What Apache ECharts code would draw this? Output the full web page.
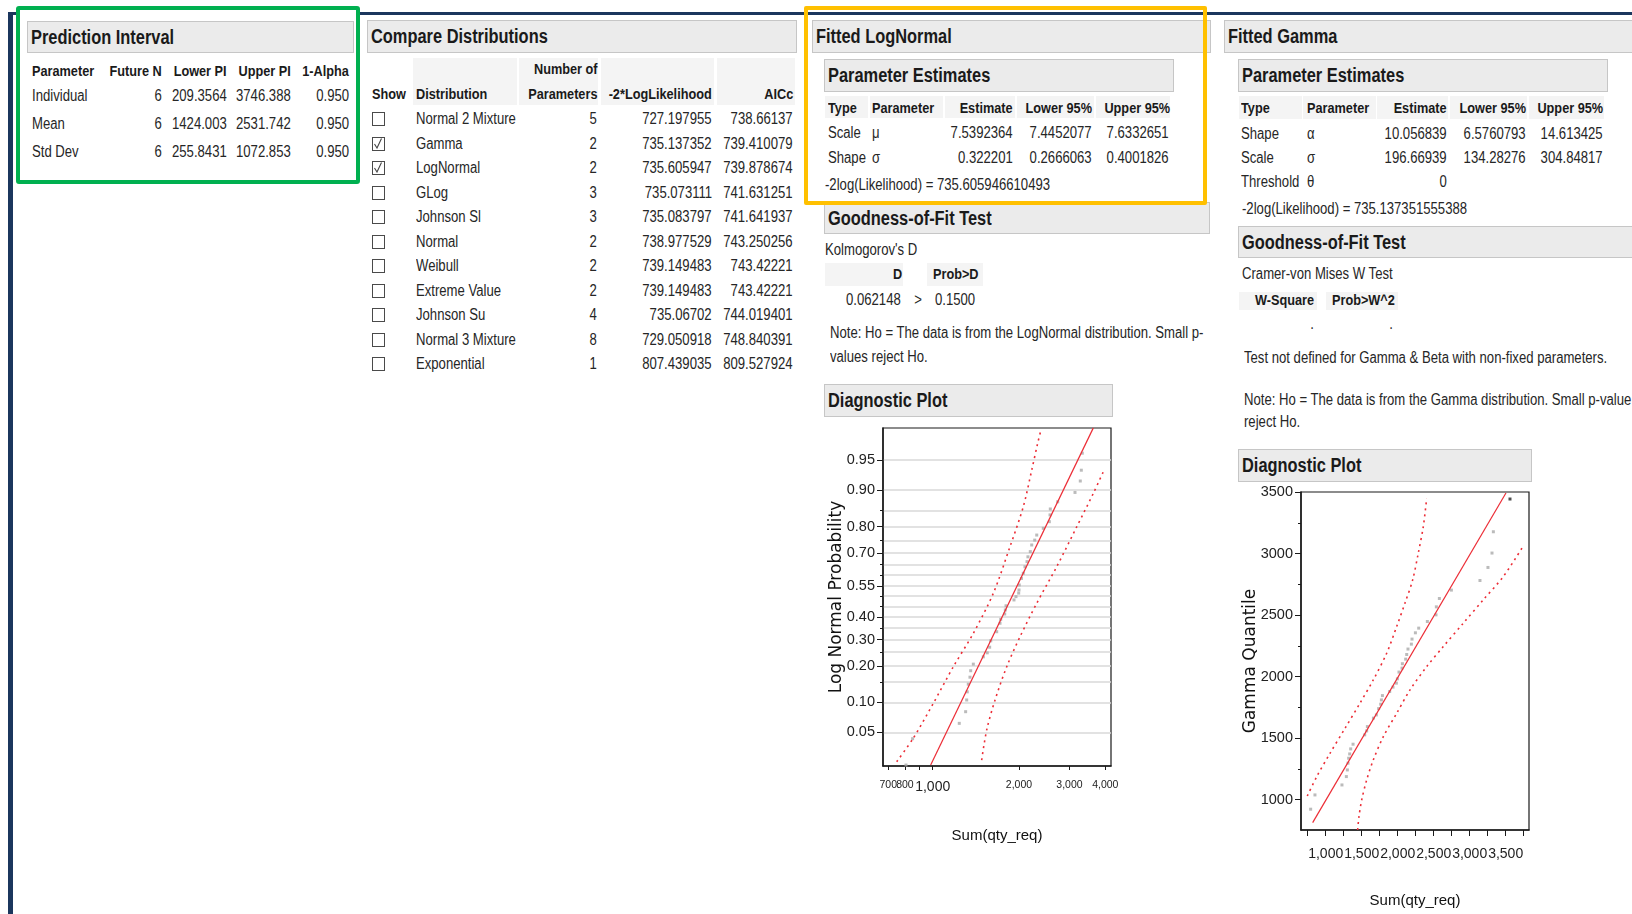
<!DOCTYPE html>
<html><head><meta charset="utf-8">
<script src="https://cdn.jsdelivr.net/npm/echarts@6/dist/echarts.min.js"></script>
<style>
body{margin:0;width:1632px;height:914px;overflow:hidden;background:#fff;position:relative;
 font-family:"Liberation Sans",Arial,sans-serif;color:#262626}
#chart{position:absolute;left:0;top:0;width:1632px;height:914px}
#ui div{position:absolute;box-sizing:border-box}
.t{white-space:nowrap}
.b{font-weight:bold;color:#1a1a1a}
.hdr{background:#ebebeb;border:1px solid #c6c6c6}
.cell{background:#f4f4f4}
.navy{background:#1b365d}
.gbox{border:4px solid #00b050;border-radius:3px;background:#fff}
.ybox{border:4px solid #ffc000;border-radius:2px}
.chk{border:1.5px solid #4a4a4a;background:#fff}
</style></head>
<body>
<div id="ui"></div>
<div id="chart"></div>
<script>
// ---------------- data ----------------
const predParams = ['Individual', 'Mean', 'Std Dev'];
const predFutureN = ['6', '6', '6'];
const predLowerPI = ['209.3564', '1424.003', '255.8431'];
const predUpperPI = ['3746.388', '2531.742', '1072.853'];
const predAlpha = ['0.950', '0.950', '0.950'];

const distNames = ['Normal 2 Mixture', 'Gamma', 'LogNormal', 'GLog', 'Johnson Sl', 'Normal', 'Weibull', 'Extreme Value', 'Johnson Su', 'Normal 3 Mixture', 'Exponential'];
const distShown = [false, true, true, false, false, false, false, false, false, false, false];
const distNParams = ['5', '2', '2', '3', '3', '2', '2', '2', '4', '8', '1'];
const distLogLik = ['727.197955', '735.137352', '735.605947', '735.073111', '735.083797', '738.977529', '739.149483', '739.149483', '735.06702', '729.050918', '807.439035'];
const distAICc = ['738.66137', '739.410079', '739.878674', '741.631251', '741.641937', '743.250256', '743.42221', '743.42221', '744.019401', '748.840391', '809.527924'];

const lnType = ['Scale', 'Shape'];
const lnParam = ['μ', 'σ'];
const lnEst = ['7.5392364', '0.322201'];
const lnLower = ['7.4452077', '0.2666063'];
const lnUpper = ['7.6332651', '0.4001826'];
const lnLik = '-2log(Likelihood) = 735.605946610493';
const lnKsD = '0.062148';
const lnKsP = '0.1500';

const gmType = ['Shape', 'Scale', 'Threshold'];
const gmParam = ['α', 'σ', 'θ'];
const gmEst = ['10.056839', '196.66939', '0'];
const gmLower = ['6.5760793', '134.28276', ''];
const gmUpper = ['14.613425', '304.84817', ''];
const gmLik = '-2log(Likelihood) = 735.137351555388';

// LogNormal diagnostic plot: [Sum(qty_req), probability]
const lnPoints = [[3556,0.979],[3325,0.958],[3299,0.936],[3272,0.918],[3136,0.895],[2729,0.873],[2572,0.854],[2566,0.837],[2552,0.816],[2431,0.794],[2306,0.770],[2269,0.751],[2215,0.732],[2190,0.705],[2149,0.683],[2133,0.662],[2098,0.639],[2070,0.609],[2040,0.585],[2004,0.554],[2000,0.530],[1995,0.515],[1952,0.498],[1921,0.482],[1802,0.454],[1792,0.434],[1783,0.415],[1727,0.390],[1717,0.372],[1672,0.334],[1594,0.295],[1580,0.269],[1550,0.247],[1502,0.232],[1386,0.206],[1357,0.184],[1349,0.164],[1331,0.144],[1320,0.124],[1314,0.105],[1303,0.0815],[1238,0.0623],[851,0.0426],[807,0.0207]];
const lnFit = [[984,0.0207],[3633,0.979]];
const lnBandLeft = [[749,0.0228],[855,0.043],[1005,0.0978],[1180,0.197],[1386,0.327],[1627,0.514],[1860,0.725],[2070,0.860],[2215,0.936],[2324,0.9677],[2386,0.9777]];
const lnBandRight = [[1482,0.0239],[1543,0.053],[1650,0.105],[1812,0.197],[2016,0.312],[2306,0.466],[2707,0.639],[3179,0.799],[3633,0.893],[3967,0.937]];
const lnProbLabels = [0.05, 0.10, 0.20, 0.30, 0.40, 0.55, 0.70, 0.80, 0.90, 0.95];
const lnProbGrid = [0.05, 0.10, 0.15, 0.20, 0.25, 0.30, 0.35, 0.40, 0.45, 0.50, 0.55, 0.60, 0.65, 0.70, 0.75, 0.80, 0.85, 0.90, 0.95];
const lnXTicks = [700, 800, 900, 1000, 2000, 3000, 4000];
const lnXLabelsA = [700, 1000, 3000];
const lnXLabelsB = [800, 2000, 4000];

// Gamma diagnostic plot: [Sum(qty_req), Gamma quantile]
const gmPoints = [[3560,3443],[3329,3177],[3310,3004],[3254,2887],[3143,2781],[2746,2703],[2579,2635],[2537,2567],[2532,2502],[2412,2448],[2292,2394],[2246,2356],[2199,2305],[2190,2264],[2143,2224],[2125,2180],[2111,2142],[2065,2105],[2060,2069],[2018,2037],[1996,1982],[1982,1947],[1935,1915],[1889,1879],[1788,1846],[1774,1811],[1764,1776],[1735,1740],[1704,1689],[1663,1663],[1579,1594],[1569,1559],[1542,1527],[1380,1451],[1347,1413],[1333,1372],[1319,1337],[1310,1297],[1301,1242],[1287,1188],[1226,1120],[851,1039],[791,923]];
const gmFit = [[819,814],[3504,3492]];
const gmBandLeft = [[744,1030],[875,1187],[1060,1377],[1268,1580],[1476,1784],[1661,1973],[1847,2190],[1986,2407],[2101,2597],[2208,2786],[2286,3003],[2356,3220],[2403,3450]];
const gmBandRight = [[1444,754],[1462,862],[1500,998],[1569,1160],[1661,1323],[1800,1512],[1986,1702],[2171,1892],[2403,2081],[2633,2244],[2911,2434],[3189,2624],[3467,2813],[3726,3044]];
const gmXTicks = [750, 1000, 1250, 1500, 1750, 2000, 2250, 2500, 2750, 3000, 3250, 3500, 3750];
const gmXLabelsA = [1000, 2000, 3000];
const gmXLabelsB = [1500, 2500, 3500];
const gmYLabels = [1000, 1500, 2000, 2500, 3000, 3500];
const gmYMinor = [1250, 1750, 2250, 2750, 3250];

// ---------------- html panels ----------------
const W = 1632, SX = 0.82;
const ui = document.getElementById('ui');
function el(cls, css, text) {
  const d = document.createElement('div'); d.className = cls;
  Object.assign(d.style, css); if (text != null) d.textContent = text;
  ui.appendChild(d); return d;
}
function box(x, y, w, h, cls) { return el(cls, {left: x + 'px', top: y + 'px', width: w + 'px', height: h + 'px'}); }
function txt(s, x, y, o) {
  o = o || {}; const fs = o.fs || 16;
  const css = {top: (y - fs * 0.62) + 'px', fontSize: fs + 'px', lineHeight: (fs * 1.2) + 'px'};
  if (o.al === 'r') { css.right = (W - x) + 'px'; css.transformOrigin = '100% 50%'; css.transform = 'scaleX(' + SX + ')'; }
  else if (o.al === 'c') { css.left = x + 'px'; css.transformOrigin = '50% 50%'; css.transform = 'translateX(-50%) scaleX(' + SX + ')'; }
  else { css.left = x + 'px'; css.transformOrigin = '0 50%'; css.transform = 'scaleX(' + SX + ')'; }
  return el('t' + (o.b ? ' b' : ''), css, s);
}
function header(x, y, w, h, title) { box(x, y, w, h, 'hdr'); txt(title, x + 4, y + h / 2, {b: true, fs: 20}); }
const HB = {b: true, fs: 15.5};
const HBR = {b: true, fs: 15.5, al: 'r'};

box(8, 12, 1624, 3, 'navy');
box(8, 12, 5, 902, 'navy');
box(16, 6, 344, 178, 'gbox');

// Prediction Interval
header(27, 21, 327, 32, 'Prediction Interval');
txt('Parameter', 32, 72, HB);
txt('Future N', 162, 72, HBR);
txt('Lower PI', 227, 72, HBR);
txt('Upper PI', 291, 72, HBR);
txt('1-Alpha', 349, 72, HBR);
[96, 124, 152].forEach((y, i) => {
  txt(predParams[i], 32, y);
  txt(predFutureN[i], 162, y, {al: 'r'});
  txt(predLowerPI[i], 227, y, {al: 'r'});
  txt(predUpperPI[i], 291, y, {al: 'r'});
  txt(predAlpha[i], 349, y, {al: 'r'});
});

// Compare Distributions
header(367, 20, 430, 33, 'Compare Distributions');
[[413, 517], [519, 598], [601, 714], [717, 795]].forEach(c => box(c[0], 58, c[1] - c[0], 47, 'cell'));
txt('Number of', 597, 70, HBR);
txt('Show', 372, 95, HB);
txt('Distribution', 416, 95, HB);
txt('Parameters', 597, 95, HBR);
txt('-2*LogLikelihood', 712, 95, HBR);
txt('AICc', 793, 95, HBR);
distNames.forEach((n, i) => {
  const y = 119.3 + i * 24.47;
  const cb = box(372, y - 7, 13, 14, 'chk');
  if (distShown[i]) cb.innerHTML = '<svg width="10" height="11" style="position:absolute;left:0;top:0"><polyline points="1.5,6 4,10 8.5,0.5" fill="none" stroke="#444" stroke-width="1.1"/></svg>';
  txt(n, 416, y);
  txt(distNParams[i], 597, y, {al: 'r'});
  txt(distLogLik[i], 712, y, {al: 'r'});
  txt(distAICc[i], 793, y, {al: 'r'});
});

// Fitted LogNormal
header(812, 20, 399, 33, 'Fitted LogNormal');
header(824, 59, 350, 33, 'Parameter Estimates');
[[825, 868], [870, 943], [945, 1015], [1017, 1094], [1096, 1170]].forEach(c => box(c[0], 96, c[1] - c[0], 22, 'cell'));
txt('Type', 828, 109, HB);
txt('Parameter', 872, 109, HB);
txt('Estimate', 1013, 109, HBR);
txt('Lower 95%', 1092, 109, HBR);
txt('Upper 95%', 1170, 109, HBR);
[133, 158].forEach((y, i) => {
  txt(lnType[i], 828, y);
  txt(lnParam[i], 872, y);
  txt(lnEst[i], 1013, y, {al: 'r'});
  txt(lnLower[i], 1092, y, {al: 'r'});
  txt(lnUpper[i], 1169, y, {al: 'r'});
});
txt(lnLik, 825, 185);
header(824, 202, 386, 32, 'Goodness-of-Fit Test');
txt("Kolmogorov's D", 825, 250);
box(825, 263, 78, 23, 'cell'); box(927, 263, 56, 23, 'cell');
txt('D', 902, 275, HBR);
txt('Prob>D', 933, 275, HB);
txt(lnKsD, 901, 300, {al: 'r'});
txt('>', 918, 300, {al: 'c'});
txt(lnKsP, 935, 300);
txt('Note: Ho = The data is from the LogNormal distribution. Small p-', 830, 333);
txt('values reject Ho.', 830, 357);
header(824, 384, 289, 33, 'Diagnostic Plot');

// Fitted Gamma
header(1224, 20, 420, 33, 'Fitted Gamma');
header(1238, 59, 370, 33, 'Parameter Estimates');
[[1239, 1302], [1303, 1376], [1377, 1448], [1450, 1527], [1529, 1604]].forEach(c => box(c[0], 96, c[1] - c[0], 23, 'cell'));
txt('Type', 1241, 109, HB);
txt('Parameter', 1307, 109, HB);
txt('Estimate', 1447, 109, HBR);
txt('Lower 95%', 1526, 109, HBR);
txt('Upper 95%', 1603, 109, HBR);
[134, 158, 182].forEach((y, i) => {
  txt(gmType[i], 1241, y);
  txt(gmParam[i], 1307, y);
  txt(gmEst[i], 1447, y, {al: 'r'});
  txt(gmLower[i], 1526, y, {al: 'r'});
  txt(gmUpper[i], 1603, y, {al: 'r'});
});
txt(gmLik, 1242, 209);
header(1238, 226, 420, 32, 'Goodness-of-Fit Test');
txt('Cramer-von Mises W Test', 1242, 274);
box(1239, 292, 78, 18, 'cell'); box(1326, 292, 72, 18, 'cell');
txt('W-Square', 1314, 301, HBR);
txt('Prob>W^2', 1332, 301, HB);
txt('.', 1312, 324, {al: 'c'});
txt('.', 1391, 324, {al: 'c'});
txt('Test not defined for Gamma & Beta with non-fixed parameters.', 1244, 358);
txt('Note: Ho = The data is from the Gamma distribution. Small p-value', 1244, 400);
txt('reject Ho.', 1244, 422);
header(1238, 449, 294, 33, 'Diagnostic Plot');

box(804, 6, 403, 199, 'ybox');

// ---------------- chart ----------------
function normInv(p) {
  const a = [-3.969683028665376e+01, 2.209460984245205e+02, -2.759285104469687e+02, 1.383577518672690e+02, -3.066479806614716e+01, 2.506628277459239e+00];
  const b = [-5.447609879822406e+01, 1.615858368580409e+02, -1.556989798598866e+02, 6.680131188771972e+01, -1.328068155288572e+01];
  const c = [-7.784894002430293e-03, -3.223964580411365e-01, -2.400758277161838e+00, -2.549732539343734e+00, 4.374664141464968e+00, 2.938163982698783e+00];
  const d = [7.784695709041462e-03, 3.224671290700398e-01, 2.445134137142996e+00, 3.754408661907416e+00];
  const pl = 0.02425; let q, r;
  if (p < pl) { q = Math.sqrt(-2 * Math.log(p)); return (((((c[0]*q+c[1])*q+c[2])*q+c[3])*q+c[4])*q+c[5]) / ((((d[0]*q+d[1])*q+d[2])*q+d[3])*q+1); }
  if (p <= 1 - pl) { q = p - 0.5; r = q * q; return (((((a[0]*r+a[1])*r+a[2])*r+a[3])*r+a[4])*r+a[5])*q / (((((b[0]*r+b[1])*r+b[2])*r+b[3])*r+b[4])*r+1); }
  q = Math.sqrt(-2 * Math.log(1 - p)); return -(((((c[0]*q+c[1])*q+c[2])*q+c[3])*q+c[4])*q+c[5]) / ((((d[0]*q+d[1])*q+d[2])*q+d[3])*q+1);
}
const FONT = '"Liberation Sans",Arial,sans-serif';
const RED = '#ec2d36';
const AX = '#1a1a1a';
const lnXY = pt => [Math.log10(pt[0]), normInv(pt[1])];
const darkTop = (arr, map) => arr.map((pt, i) => i === 0 ? {value: map(pt), itemStyle: {color: '#222'}} : map(pt));
const id = pt => pt;

const axLine = {show: true, onZero: false, lineStyle: {color: AX, width: 1.5}};
const nameStyleY = {fontFamily: '"DejaVu Sans",sans-serif', fontSize: 17, color: '#111'};
const nameStyleX = {fontFamily: FONT, fontSize: 15, color: '#111'};
const LN_XMIN = Math.log10(671), LN_XMAX = Math.log10(4187);
const lnXFmt = v => { const n = Math.round(Math.pow(10, v)); const s = n.toLocaleString('en-US'); return n === 1000 ? '{big|' + s + '}' : s; };
const lnXLabel = vals => ({customValues: vals.map(Math.log10), margin: 14, fontFamily: FONT, fontSize: 10.5, color: '#222',
  showMinLabel: true, showMaxLabel: true, hideOverlap: false, formatter: lnXFmt,
  rich: {big: {fontSize: 14, fontFamily: FONT, color: '#222'}}});
const gmXLabel = vals => ({customValues: vals, margin: 17, fontFamily: FONT, fontSize: 14, color: '#222',
  showMinLabel: true, showMaxLabel: true, hideOverlap: false, formatter: v => Math.round(v).toLocaleString('en-US')});
const labelOnly = {axisLine: {show: false}, axisTick: {show: false}, splitLine: {show: false}};

const chart = echarts.init(document.getElementById('chart'));
chart.setOption({
  animation: false,
  grid: [
    {left: 883, top: 428, width: 228, height: 338, show: true, borderColor: AX, borderWidth: 1.2},
    {left: 1301, top: 492, width: 228, height: 338, show: true, borderColor: AX, borderWidth: 1.2}
  ],
  xAxis: [
    {gridIndex: 0, type: 'value', position: 'bottom', min: LN_XMIN, max: LN_XMAX,
     axisLine: axLine, splitLine: {show: false},
     axisTick: {customValues: lnXTicks.map(Math.log10), length: 4, lineStyle: {color: AX}},
     axisLabel: lnXLabel(lnXLabelsA),
     name: 'Sum(qty_req)', nameLocation: 'middle', nameGap: 62, nameMoveOverlap: false, nameTextStyle: nameStyleX},
    {gridIndex: 1, type: 'value', position: 'bottom', min: 657, max: 3824,
     axisLine: axLine, splitLine: {show: false},
     axisTick: {customValues: gmXTicks, length: 6, lineStyle: {color: AX}},
     axisLabel: gmXLabel(gmXLabelsA),
     name: 'Sum(qty_req)', nameLocation: 'middle', nameGap: 63, nameMoveOverlap: false, nameTextStyle: nameStyleX},
    Object.assign({gridIndex: 0, type: 'value', position: 'bottom', min: LN_XMIN, max: LN_XMAX,
     axisLabel: lnXLabel(lnXLabelsB)}, labelOnly),
    Object.assign({gridIndex: 1, type: 'value', position: 'bottom', min: 657, max: 3824,
     axisLabel: gmXLabel(gmXLabelsB)}, labelOnly)
  ],
  yAxis: [
    {gridIndex: 0, type: 'value', min: -2.051, max: 2.032,
     axisLine: axLine, splitLine: {show: false},
     axisTick: {customValues: lnProbLabels.map(normInv), length: 6, lineStyle: {color: AX}},
     axisLabel: {customValues: lnProbLabels.map(normInv), margin: 8, fontFamily: FONT, fontSize: 14.5, color: '#222',
       showMinLabel: true, showMaxLabel: true, hideOverlap: false,
       formatter: v => { let best = lnProbLabels[0]; lnProbLabels.forEach(p => { if (Math.abs(normInv(p) - v) < Math.abs(normInv(best) - v)) best = p; }); return best.toFixed(2); }},
     name: 'Log Normal Probability', nameLocation: 'middle', nameGap: 38, nameMoveOverlap: false, nameTextStyle: nameStyleY},
    {gridIndex: 0, type: 'value', min: -2.051, max: 2.032, position: 'left',
     axisLine: {show: false}, axisLabel: {show: false},
     axisTick: {customValues: lnProbGrid.map(normInv), length: 3, lineStyle: {color: AX}},
     splitLine: {show: true, lineStyle: {color: '#d9d9d9', width: 1.5}}},
    {gridIndex: 1, type: 'value', min: 754, max: 3500,
     axisLine: axLine, splitLine: {show: false},
     axisTick: {customValues: gmYLabels, length: 6, lineStyle: {color: AX}},
     axisLabel: {customValues: gmYLabels, margin: 8, fontFamily: FONT, fontSize: 14.5, color: '#222',
       showMinLabel: true, showMaxLabel: true, hideOverlap: false, formatter: v => String(Math.round(v))},
     name: 'Gamma Quantile', nameLocation: 'middle', nameGap: 42, nameMoveOverlap: false, nameTextStyle: nameStyleY},
    {gridIndex: 1, type: 'value', min: 754, max: 3500, position: 'left',
     axisLine: {show: false}, axisLabel: {show: false}, splitLine: {show: false},
     axisTick: {customValues: gmYMinor, length: 3, lineStyle: {color: AX}}}
  ],
  series: [
    {type: 'line', xAxisIndex: 0, yAxisIndex: 0, data: lnBandLeft.map(lnXY), smooth: 0.3, showSymbol: false,
     lineStyle: {color: RED, width: 1.6, type: [2, 4]}},
    {type: 'line', xAxisIndex: 0, yAxisIndex: 0, data: lnBandRight.map(lnXY), smooth: 0.3, showSymbol: false,
     lineStyle: {color: RED, width: 1.6, type: [2, 4]}},
    {type: 'line', xAxisIndex: 0, yAxisIndex: 0, data: lnFit.map(lnXY), showSymbol: false,
     lineStyle: {color: RED, width: 1.2}},
    {type: 'scatter', xAxisIndex: 0, yAxisIndex: 0, data: darkTop(lnPoints, lnXY), symbol: 'rect', symbolSize: 3,
     itemStyle: {color: '#aaaaaa'}},
    {type: 'line', xAxisIndex: 1, yAxisIndex: 2, data: gmBandLeft.map(id), smooth: 0.3, showSymbol: false,
     lineStyle: {color: RED, width: 1.6, type: [2, 4]}},
    {type: 'line', xAxisIndex: 1, yAxisIndex: 2, data: gmBandRight.map(id), smooth: 0.3, showSymbol: false,
     lineStyle: {color: RED, width: 1.6, type: [2, 4]}},
    {type: 'line', xAxisIndex: 1, yAxisIndex: 2, data: gmFit.map(id), showSymbol: false,
     lineStyle: {color: RED, width: 1.2}},
    {type: 'scatter', xAxisIndex: 1, yAxisIndex: 2, data: darkTop(gmPoints, id), symbol: 'rect', symbolSize: 3,
     itemStyle: {color: '#aaaaaa'}}
  ]
});
</script>
</body></html>
